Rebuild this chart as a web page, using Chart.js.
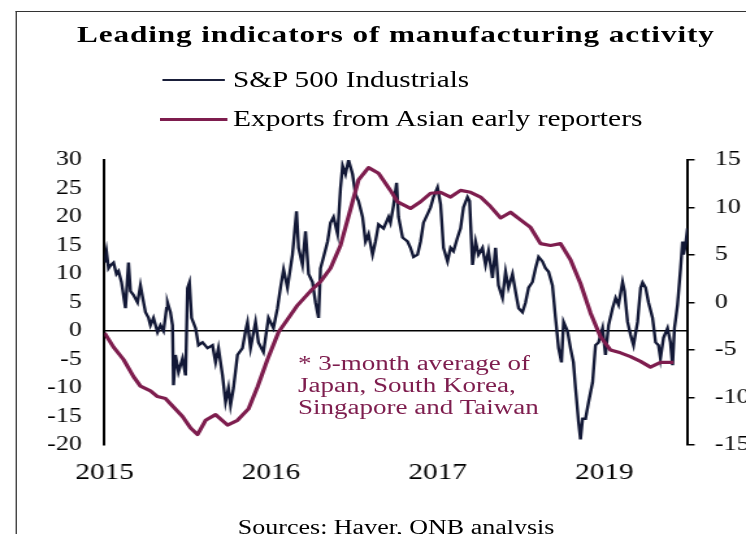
<!DOCTYPE html>
<html>
<head>
<meta charset="utf-8">
<script src="https://cdn.jsdelivr.net/npm/chart.js@4.4.1/dist/chart.umd.min.js"></script>
<style>
  html, body { margin:0; padding:0; background:#fff; overflow:hidden; width:746px; height:534px; }
  #wrap { position:absolute; left:0; top:0; width:574px; height:534px; transform:scaleX(1.29965); transform-origin:0 0; font-family:"Liberation Serif","Times New Roman",serif; }
  #frame { position:absolute; left:12.3px; top:10.5px; width:700px; height:600px; border-left:1.5px solid #333; border-top:1.5px solid #333; }
  canvas { position:absolute; left:0; top:0; }
  .t { position:absolute; white-space:nowrap; line-height:1; }
  #title { left:59.2px; top:21.9px; font-size:24px; font-weight:bold; letter-spacing:0.7px; color:#000; }
  #leg1 { left:179.3px; top:69.2px; font-size:22.5px; color:#000; }
  #leg2 { left:179.3px; top:108px; font-size:22.7px; color:#000; }
  #legline1 { position:absolute; left:125.4px; top:79px; width:47.7px; height:2px; background:#1a1f3a; }
  #legline2 { position:absolute; left:123px; top:117.5px; width:52.4px; height:3px; background:#7e1d4e; }
  #note { left:229.3px; top:351.5px; font-size:20.8px; line-height:22px; color:#7e1d4e; }
  #src { left:183px; top:517.2px; font-size:20px; color:#000; }
</style>
</head>
<body>
<div id="wrap">
  <div id="frame"></div>
  <canvas id="c" width="574" height="534" style="width:574px;height:534px"></canvas>
  <div class="t" id="title">Leading indicators of manufacturing activity</div>
  <div id="legline1"></div>
  <div class="t" id="leg1">S&amp;P 500 Industrials</div>
  <div id="legline2"></div>
  <div class="t" id="leg2">Exports from Asian early reporters</div>
  <div class="t" id="note">* 3-month average of<br>Japan, South Korea,<br>Singapore and Taiwan</div>
  <div class="t" id="src">Sources: Haver, QNB analysis</div>
</div>
<script>
// X positions are months since January 2015
const xTickMonths = [0, 12, 24, 36];
const xTickLabels = ["2015", "2016", "2017", "2019"];

// S&P 500 Industrials (left axis)
const spxMonths = [
  0,0.14,0.29,0.43,0.65,0.86,1.01,1.22,1.51,1.73,
  1.87,2.09,2.38,2.59,2.74,2.95,3.17,3.31,3.53,3.82,
  4.03,4.25,4.47,4.54,4.75,4.9,4.97,5.11,5.33,5.62,
  5.84,5.98,6.12,6.27,6.56,6.77,7.06,7.42,7.78,8.0,
  8.21,8.5,8.72,8.93,9.08,9.29,9.58,9.94,10.16,10.3,
  10.52,10.88,11.09,11.45,11.81,12.17,12.46,12.68,12.9,13.18,
  13.54,13.83,13.98,14.26,14.48,14.7,14.98,15.2,15.42,15.56,
  15.78,16.07,16.28,16.5,16.79,17.0,17.15,17.36,17.58,17.87,
  18.08,18.3,18.59,18.8,19.02,19.31,19.52,19.74,20.1,20.46,
  20.6,20.82,21.04,21.18,21.47,21.83,22.04,22.26,22.55,22.77,
  22.98,23.27,23.49,23.7,23.99,24.21,24.42,24.71,24.93,25.14,
  25.43,25.65,25.86,26.15,26.3,26.51,26.73,26.94,27.23,27.45,
  27.66,27.95,28.17,28.38,28.67,28.89,29.1,29.39,29.61,29.83,
  30.11,30.33,30.55,30.83,31.05,31.27,31.55,31.77,31.99,32.27,
  32.49,32.71,32.92,33.07,33.35,33.57,33.78,33.93,34.15,34.29,
  34.44,34.65,34.87,35.16,35.37,35.59,35.88,36.09,36.31,36.6,
  36.82,37.03,37.32,37.46,37.68,37.9,38.11,38.4,38.62,38.76,
  38.98,39.19,39.48,39.7,39.91,40.05,40.27,40.56,40.77,40.92,
  41.06,41.28,41.5,41.64,41.71,41.86,42.0
];
const spxValues = [
  12,14,11,11.5,12,10,10.5,8.6,4,12,
  7,6.3,5,8,6,3.3,2.3,1,2.3,-0.2,
  1,0,4,5,3.3,1,-9.5,-4.2,-7.2,-4.8,
  -7.8,7.5,8.5,2.3,0.5,-2.5,-2,-3,-2.5,-5.5,
  -3,-7.8,-12.5,-10,-13,-10,-4.2,-3,0,1.5,
  -3,1.6,-2,-3.7,2.3,0.5,4,7.6,10.8,7.6,
  13.4,21,14.6,11.6,17.5,10,8.6,5,2.3,11,
  13,15.7,19,20,17,25,29,27.5,30,27.5,
  24,22.8,20,15.7,17,13.4,15.7,18.7,18,20,
  19,22,26,20,16.4,15.7,14.6,13,13.4,15.7,
  19,20.5,21.7,23.5,25.2,22.2,14.6,12.2,14.6,14,
  16.4,18,21.7,23.5,22.8,11.6,15.7,13.4,14.6,11.6,
  14,9.3,14.6,8,5.8,10.4,7.6,10,6.9,4,
  3.3,5,7.6,8.6,11,13,12.2,11,10.4,8,
  2.3,-3,-5.5,1.6,0,-3,-5.5,-10,-16,-19,
  -15.4,-15.4,-12.5,-9,-2.5,-2,0.5,-4.2,1,4,
  5.8,4.6,8.6,7,1.6,-0.7,-2.5,1.6,7.6,8.5,
  7.6,5,2.3,-2,-2.5,-4.8,-1.2,0.5,-2,-6,
  0.5,4.6,11,15.7,13.4,15.2,18
];

// Exports from Asian early reporters, 3-month average (right axis)
const expMonths = [
  0,0.65,1.37,2.09,2.59,3.31,3.82,4.39,4.97,5.62,
  6.2,6.7,7.28,8.0,8.86,9.58,10.37,11.02,11.74,12.54,
  13.18,13.9,14.84,15.56,16.28,17.0,17.72,18.3,19.02,19.74,
  20.6,21.11,22.04,22.77,23.49,24.21,24.93,25.65,26.37,27.09,
  27.81,28.53,29.25,29.97,30.69,31.41,32.13,32.85,33.57,34.29,
  35.01,35.73,36.45,37.17,37.89,38.61,39.33,40.05,40.99
];
const expValues = [
  -3.2,-4.7,-6,-7.8,-8.8,-9.3,-9.9,-10.1,-11,-12,
  -13.2,-13.9,-12.4,-11.8,-12.9,-12.4,-11.2,-8.9,-6,-3.1,
  -1.8,-0.3,1.2,2.2,3.6,6,9.8,12.9,14.2,13.6,
  11.8,10.6,9.9,10.6,11.5,11.6,11.1,11.8,11.6,11.1,
  10.1,8.9,9.5,8.7,7.9,6.2,6,6.2,4.5,2,
  -1.1,-3.6,-5,-5.3,-5.7,-6.2,-6.8,-6.3,-6.3
];

const NAVY = "#121836";
const PURPLE = "#7e1d4e";
Chart.defaults.font.family = '"Liberation Serif", "Times New Roman", serif';
Chart.defaults.color = "#000";

new Chart(document.getElementById("c"), {
  type: "line",
  data: {
    datasets: [
      {
        label: "Exports from Asian early reporters",
        data: expMonths.map((m, i) => ({ x: m, y: expValues[i] })),
        yAxisID: "y2",
        borderColor: PURPLE,
        borderWidth: 3.2,
        pointRadius: 0,
        tension: 0,
        borderJoinStyle: "round"
      },
      {
        label: "S&P 500 Industrials",
        data: spxMonths.map((m, i) => ({ x: m, y: spxValues[i] })),
        yAxisID: "y",
        borderColor: NAVY,
        borderWidth: 2.4,
        pointRadius: 0,
        tension: 0
      }
    ]
  },
  options: {
    responsive: false,
    animation: false,
    devicePixelRatio: 1,
    layout: { padding: { top: 160, bottom: 49, left: 0, right: 0 } },
    plugins: { legend: { display: false }, tooltip: { enabled: false }, title: { display: false } },
    scales: {
      x: {
        type: "linear",
        min: 0,
        max: 42,
        afterBuildTicks: (s) => { s.ticks = xTickMonths.map((v) => ({ value: v })); },
        afterFit: (s) => { s.height = 40; },
        ticks: {
          callback: (v, i) => xTickLabels[i],
          font: { size: 22.5 },
          color: "#000",
          padding: 15,
          autoSkip: false,
          maxRotation: 0
        },
        grid: { display: false, drawTicks: false },
        border: { display: false }
      },
      y: {
        position: "left",
        min: -20,
        max: 30,
        afterFit: (s) => { s.width = 80.4; },
        ticks: { stepSize: 5, font: { size: 20 }, color: "#000", padding: 17.4 },
        grid: {
          drawTicks: false,
          color: (c) => (c.tick && c.tick.value === 0 ? "#000" : "rgba(0,0,0,0)"),
          lineWidth: 1.4
        },
        border: { display: true, color: "#000", width: 2 }
      },
      y2: {
        position: "right",
        min: -15,
        max: 15,
        afterFit: (s) => { s.width = 45; },
        ticks: { stepSize: 5, font: { size: 20 }, color: "#000", padding: 15.6 },
        grid: { drawOnChartArea: false, drawTicks: true, tickLength: 5.4, color: "#000", lineWidth: 1.5 },
        border: { display: true, color: "#000", width: 2 }
      }
    }
  }
});
</script>
</body>
</html>
